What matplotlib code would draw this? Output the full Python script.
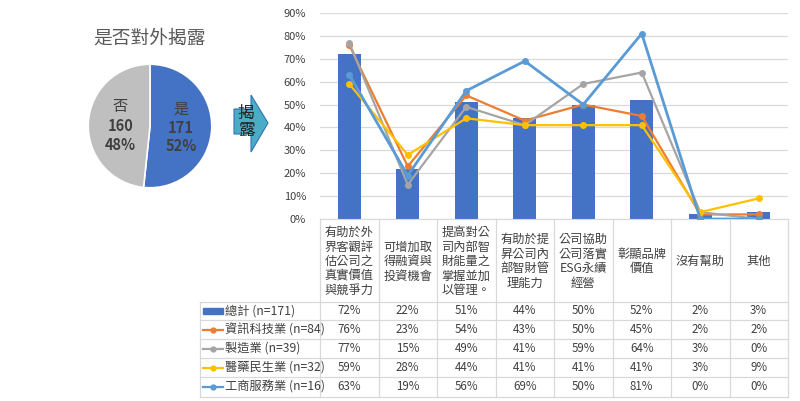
import matplotlib
matplotlib.use("Agg")
import matplotlib.pyplot as plt
from matplotlib.patches import Polygon, Rectangle

plt.rcParams['font.family'] = ['Noto Sans CJK TC', 'DejaVu Sans']

# ---------------- data ----------------
pie_labels = ["是", "否"]
pie_counts = [171, 160]
pie_pcts = ["52%", "48%"]
pie_title = "是否對外揭露"
arrow_text = "揭\n露"

categories = [
    "有助於外\n界客觀評\n估公司之\n真實價值\n與競爭力",
    "可增加取\n得融資與\n投資機會",
    "提高對公\n司內部智\n財能量之\n掌握並加\n以管理。",
    "有助於提\n昇公司內\n部智財管\n理能力",
    "公司協助\n公司落實\nESG永續\n經營",
    "彰顯品牌\n價值",
    "沒有幫助",
    "其他",
]
series_names = ["總計 (n=171)", "資訊科技業 (n=84)", "製造業 (n=39)",
                "醫藥民生業 (n=32)", "工商服務業 (n=16)"]
total = [72, 22, 51, 44, 50, 52, 2, 3]
it_sector = [76, 23, 54, 43, 50, 45, 2, 2]
manufacturing = [77, 15, 49, 41, 59, 64, 3, 0]
medical = [59, 28, 44, 41, 41, 41, 3, 9]
services = [63, 19, 56, 69, 50, 81, 0, 0]
series_values = [total, it_sector, manufacturing, medical, services]
y_ticks = [0, 10, 20, 30, 40, 50, 60, 70, 80, 90]

# ---------------- styles ----------------
c_bar = "#4472C4"
line_colors = ["#ED7D31", "#A5A5A5", "#FFC000", "#5B9BD5"]
line_widths = [1.6, 1.6, 1.6, 2.0]
txt_col = "#404040"
grid_col = "#D9D9D9"

W, H = 800, 401
fig = plt.figure(figsize=(W / 100, H / 100), dpi=100)

def fig_rect(x0, y0, x1, y1):
    return [x0 / W, 1 - y1 / H, (x1 - x0) / W, (y1 - y0) / H]

# pixel layout
AX_L, AX_R, AX_T, AX_B = 320, 788, 13, 219
TB_L = 200
row_edges = [302, 320, 339, 358, 377, 397]

# background overlay axes in pixel coordinates
bg = fig.add_axes([0, 0, 1, 1], zorder=0)
bg.set_xlim(0, W)
bg.set_ylim(H, 0)
bg.axis("off")

# ---------------- main chart ----------------
ax = fig.add_axes(fig_rect(AX_L, AX_T, AX_R, AX_B), zorder=2)
ax.patch.set_alpha(0)
n = len(categories)
xs = list(range(n))
ax.bar(xs, total, width=0.4, color=c_bar, zorder=2)
for vals, col, lw in zip(series_values[1:], line_colors, line_widths):
    ax.plot(xs, vals, color=col, lw=lw, marker="o", markersize=4, zorder=3)
ax.set_xlim(-0.5, n - 0.5)
ax.set_ylim(0, 90)
ax.set_yticks(y_ticks)
ax.set_yticklabels([f"{v}%" for v in y_ticks], fontsize=8, color=txt_col)
ax.set_xticks([])
ax.grid(axis="y", color=grid_col, lw=0.9, zorder=0)
for s in ["left", "right", "top"]:
    ax.spines[s].set_visible(False)
ax.spines["bottom"].set_color(grid_col)
ax.tick_params(axis="y", length=0, pad=10)

# ---------------- table ----------------
col_w = (AX_R - AX_L) / n
col_edges = [AX_L + i * col_w for i in range(n + 1)]
for x in col_edges:
    bg.plot([x, x], [AX_B, row_edges[-1]], color=grid_col, lw=0.9)
bg.plot([TB_L, TB_L], [row_edges[0], row_edges[-1]], color=grid_col, lw=0.9)
for y in row_edges:
    bg.plot([TB_L, AX_R], [y, y], color=grid_col, lw=0.9)

for i, cat in enumerate(categories):
    cx = (col_edges[i] + col_edges[i + 1]) / 2
    bg.text(cx, (AX_B + row_edges[0]) / 2 + 1, cat, ha="center", va="center",
            fontsize=8.8, color=txt_col, linespacing=1.15)

for r, (name, vals) in enumerate(zip(series_names, series_values)):
    yc = (row_edges[r] + row_edges[r + 1]) / 2
    if r == 0:
        bg.add_patch(Rectangle((203, yc - 3), 20, 6, color=c_bar))
    else:
        bg.plot([203, 223], [yc, yc], color=line_colors[r - 1], lw=1.6)
        bg.plot([213], [yc], marker="o", markersize=3.5, color=line_colors[r - 1])
    bg.text(225, yc, name, ha="left", va="center", fontsize=8.8, color=txt_col)
    for i, v in enumerate(vals):
        cx = (col_edges[i] + col_edges[i + 1]) / 2
        bg.text(cx, yc, f"{v}%", ha="center", va="center", fontsize=8.3, color=txt_col)

# ---------------- pie ----------------
bg.text(150, 38, pie_title, ha="center", va="center", fontsize=13.5, color="#595959")
pax = fig.add_axes(fig_rect(87, 63, 213, 189), zorder=2)
pax.pie(pie_counts, colors=[c_bar, "#BFBFBF"], startangle=90, counterclock=False,
        wedgeprops=dict(edgecolor="white", linewidth=1.2), radius=1)
pax.set_xlim(-1.02, 1.02)
pax.set_ylim(-1.02, 1.02)
pax.set_aspect("equal")
label_pos = [(0.5, -0.03), (-0.48, 0.0)]
for (lx, ly), lab, cnt, pct in zip(label_pos, pie_labels, pie_counts, pie_pcts):
    pax.text(lx, ly + 0.31, lab, ha="center", va="center", fontsize=11, color=txt_col)
    pax.text(lx, ly, str(cnt), ha="center", va="center", fontsize=10.5,
             color=txt_col, fontweight="bold")
    pax.text(lx, ly - 0.3, pct, ha="center", va="center", fontsize=10.5,
             color=txt_col, fontweight="bold")

# ---------------- arrow ----------------
arrow = Polygon([(234, 109), (251, 109), (251, 95), (268, 123), (251, 152),
                 (251, 134), (234, 134)], closed=True, facecolor="#4BACC6",
                edgecolor="#2E75B6", lw=0.8)
bg.add_patch(arrow)
bg.text(246, 122, arrow_text, ha="center", va="center", fontsize=12,
        color="#262626", linespacing=1.0)

fig.savefig("out.png", dpi=100)
